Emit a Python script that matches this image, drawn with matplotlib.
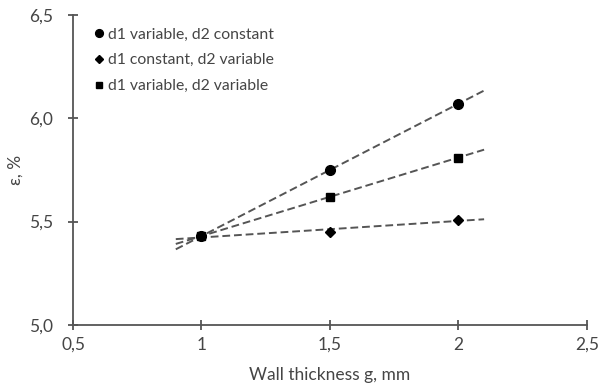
import numpy as np
import matplotlib
matplotlib.use("Agg")
import matplotlib.pyplot as plt

plt.rcParams['font.family'] = ['Lato', 'DejaVu Sans']

x_vals = [1.0, 1.5, 2.0]
series_names = ["d1 variable, d2 constant", "d1 constant, d2 variable", "d1 variable, d2 variable"]
s_circle = [5.43, 5.75, 6.07]
s_diamond = [5.43, 5.45, 5.51]
s_square = [5.43, 5.62, 5.81]
x_ticks = [0.5, 1.0, 1.5, 2.0, 2.5]
x_tick_labels = ["0,5", "1", "1,5", "2", "2,5"]
y_ticks = [5.0, 5.5, 6.0, 6.5]
y_tick_labels = ["5,0", "5,5", "6,0", "6,5"]
trend_range = [0.9, 2.1]

txt = '#454545'
fig = plt.figure(figsize=(6.01, 3.92), dpi=100)
ax = fig.add_axes([0.1215, 0.171, 0.855, 0.791])

markers = ['o', 'D', 's']
msizes = [7.0, 5.2, 6.2]
for ys, m, ms, name in zip([s_circle, s_diamond, s_square], markers, msizes, series_names):
    coef = np.polyfit(x_vals, ys, 1)
    xt = np.array(trend_range)
    ax.plot(xt, np.polyval(coef, xt), ls=(0, (4, 2)), color='#555555', lw=1.4, zorder=2)
    ax.plot(x_vals, ys, ls='none', marker=m, ms=ms, color='black', label=name, zorder=3)

ax.set_xlim(0.5, 2.5)
ax.set_ylim(5.0, 6.5)
ax.set_xticks(x_ticks)
ax.set_xticklabels(x_tick_labels)
ax.set_yticks(y_ticks)
ax.set_yticklabels(y_tick_labels)
for s in ['top', 'right']:
    ax.spines[s].set_visible(False)
for s in ['left', 'bottom']:
    ax.spines[s].set_color('#555555')
    ax.spines[s].set_linewidth(1.3)
ax.tick_params(direction='inout', length=7, width=1.3, color='#555555', labelsize=12.5, labelcolor=txt)
ax.tick_params(axis='y', pad=11)
ax.tick_params(axis='x', pad=5)
ax.set_xlabel("Wall thickness g, mm", fontsize=12.5, color=txt, labelpad=10)
ax.set_ylabel("ε, %", fontsize=12.5, color=txt, labelpad=4)

leg = ax.legend(loc='upper left', bbox_to_anchor=(0.015, 1.005), frameon=False, fontsize=11.3,
                handlelength=0.5, handletextpad=0.35, labelspacing=0.75, markerscale=0.8)
for t in leg.get_texts():
    t.set_color(txt)

fig.savefig("out.png", dpi=100)
